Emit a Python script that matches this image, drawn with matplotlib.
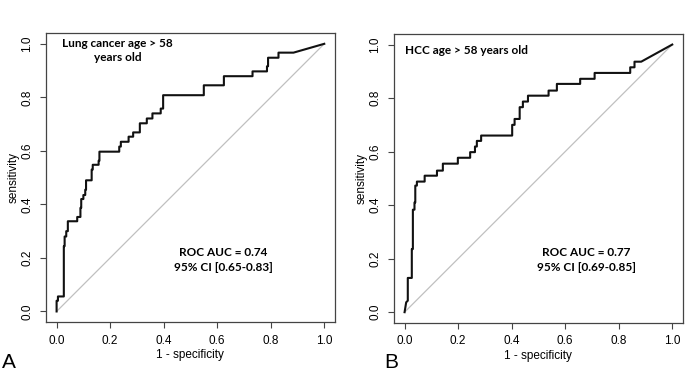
import matplotlib
matplotlib.use('Agg')
import matplotlib.pyplot as plt

# ROC vertices (1 - specificity, sensitivity)
fpr_a = [0, 0, 0.005, 0.005, 0.027, 0.027, 0.030, 0.030, 0.036, 0.036, 0.042, 0.042,
         0.077, 0.077, 0.089, 0.089, 0.092, 0.092, 0.100, 0.100, 0.107, 0.107, 0.110, 0.110,
         0.131, 0.131, 0.135, 0.135, 0.157, 0.157, 0.160, 0.160, 0.234, 0.234, 0.240, 0.240,
         0.269, 0.269, 0.286, 0.286, 0.311, 0.311, 0.337, 0.337, 0.358, 0.358, 0.389, 0.389,
         0.398, 0.398, 0.550, 0.550, 0.625, 0.625, 0.732, 0.732, 0.786, 0.786, 0.790, 0.790,
         0.829, 0.829, 0.885, 1.0]
tpr_a = [0, 0.040, 0.040, 0.056, 0.056, 0.244, 0.244, 0.280, 0.280, 0.300, 0.300, 0.337,
         0.337, 0.353, 0.353, 0.387, 0.387, 0.420, 0.420, 0.435, 0.435, 0.455, 0.455, 0.490,
         0.490, 0.530, 0.530, 0.548, 0.548, 0.563, 0.563, 0.597, 0.597, 0.616, 0.616, 0.634,
         0.634, 0.653, 0.653, 0.669, 0.669, 0.703, 0.703, 0.721, 0.721, 0.740, 0.740, 0.758,
         0.758, 0.808, 0.808, 0.845, 0.845, 0.879, 0.879, 0.897, 0.897, 0.916, 0.916, 0.948,
         0.948, 0.967, 0.967, 1.0]

fpr_b = [0, 0.006, 0.006, 0.012, 0.012, 0.027, 0.027, 0.031, 0.031, 0.037, 0.037, 0.040,
         0.040, 0.046, 0.046, 0.075, 0.075, 0.121, 0.121, 0.143, 0.143, 0.199, 0.199, 0.245,
         0.245, 0.263, 0.263, 0.270, 0.270, 0.286, 0.286, 0.402, 0.402, 0.411, 0.411, 0.430,
         0.430, 0.442, 0.442, 0.461, 0.461, 0.538, 0.538, 0.569, 0.569, 0.656, 0.656, 0.710,
         0.710, 0.843, 0.843, 0.859, 0.859, 0.884, 1.0]
tpr_b = [0, 0.037, 0.037, 0.043, 0.128, 0.128, 0.236, 0.236, 0.383, 0.383, 0.410, 0.410,
         0.473, 0.473, 0.488, 0.488, 0.510, 0.510, 0.529, 0.529, 0.555, 0.555, 0.577, 0.577,
         0.598, 0.598, 0.619, 0.619, 0.640, 0.640, 0.660, 0.660, 0.700, 0.700, 0.722, 0.722,
         0.766, 0.766, 0.787, 0.787, 0.809, 0.809, 0.828, 0.828, 0.853, 0.853, 0.872, 0.872,
         0.894, 0.894, 0.915, 0.915, 0.936, 0.936, 1.0]

ticks = [0.0, 0.2, 0.4, 0.6, 0.8, 1.0]
tick_labels = ['0.0', '0.2', '0.4', '0.6', '0.8', '1.0']

plt.rcParams['font.family'] = ['Liberation Sans', 'DejaVu Sans']


def roc_panel(ax, fpr, tpr, title, title_xy, title_ha, auc_text, auc_xy):
    ax.plot([0, 1], [0, 1], color='#c0c0c0', lw=0.9)
    ax.plot(fpr, tpr, color='#111111', lw=1.5)
    ax.set_xlim(-0.04, 1.04)
    ax.set_ylim(-0.04, 1.04)
    ax.set_xticks(ticks)
    ax.set_xticklabels(tick_labels, fontsize=8.5)
    ax.set_yticks(ticks)
    ax.set_yticklabels(tick_labels, fontsize=8.5, rotation=90, va='center')
    ax.tick_params(direction='out', length=4, width=0.8, color='#444444', pad=5)
    for s in ax.spines.values():
        s.set_color('#444444')
        s.set_linewidth(0.9)
    ax.set_xlabel('1 - specificity', fontsize=8.5, labelpad=2)
    ax.set_ylabel('sensitivity', fontsize=8.5, labelpad=1)
    ax.text(title_xy[0], title_xy[1], title, ha=title_ha, va='top', fontsize=8.5,
            fontweight='bold', family=['Lato', 'DejaVu Sans'], linespacing=1.3)
    ax.text(auc_xy[0], auc_xy[1], auc_text, ha='center', va='center', fontsize=8.5,
            fontweight='bold', family=['Lato', 'DejaVu Sans'], linespacing=1.4)


fig = plt.figure(figsize=(6.85, 3.72), dpi=100)
ax_a = fig.add_axes([0.067, 0.134, 0.422, 0.777])
ax_b = fig.add_axes([0.575, 0.132, 0.422, 0.777])

roc_panel(ax_a, fpr_a, tpr_a, 'Lung cancer age > 58\nyears old', (0.227, 1.02), 'center',
          'ROC AUC = 0.74\n95% CI [0.65-0.83]', (0.623, 0.193))
roc_panel(ax_b, fpr_b, tpr_b, 'HCC age > 58 years old', (0.0, 1.0), 'left',
          'ROC AUC = 0.77\n95% CI [0.69-0.85]', (0.679, 0.196))

fig.text(0.003, 0.01, 'A', fontsize=15)
fig.text(0.561, 0.01, 'B', fontsize=15)

fig.savefig('out.png', dpi=100)
